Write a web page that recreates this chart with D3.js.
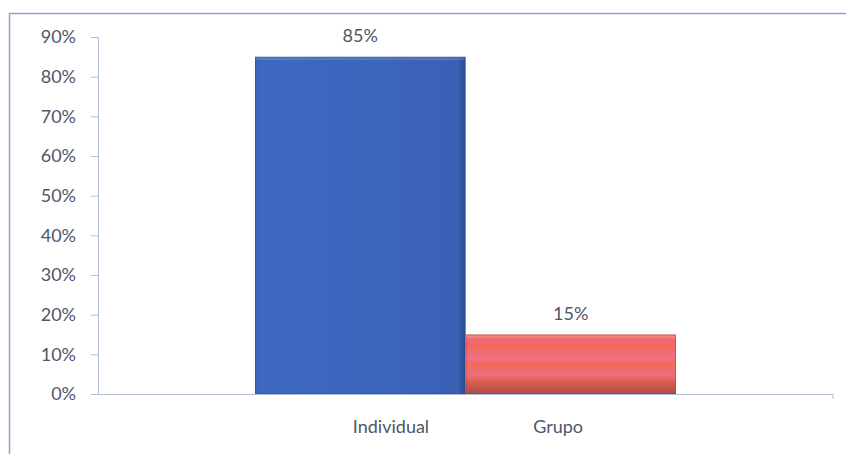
<!DOCTYPE html>
<html><head><meta charset="utf-8">
<script src="https://cdn.jsdelivr.net/npm/d3@7"></script>
<style>html,body{margin:0;padding:0;background:#fff;}svg{display:block;font-family:Lato,"Open Sans",sans-serif;}</style>
</head><body>
<svg id="c" width="846" height="454"></svg>
<script>
const categories = ["Individual", "Grupo"];
const values = [85, 15];
const valueLabels = ["85%", "15%"];
const yTicks = [0, 10, 20, 30, 40, 50, 60, 70, 80, 90];

const svg = d3.select("#c");
const W = 846, H = 454;
const m = {left: 98, right: 13, top: 37, bottom: 60};
const x0 = m.left, x1 = W - m.right, y0 = H - m.bottom, y1 = m.top;
const FS = "18px";
const TXT = "#4f566a";

// frame
svg.append("rect").attr("x", 9.5).attr("y", 13.5).attr("width", 860).attr("height", 460)
  .attr("fill", "none").attr("stroke", "#8f9fcb").attr("stroke-width", 1.5);

const y = d3.scaleLinear().domain([0, 90]).range([y0, y1]);
// single group centred in plot; two series adjacent
const group = d3.scaleBand().domain(["g"]).range([x0, x1]).paddingInner(0).paddingOuter(0.373);
const xs = d3.scaleBand().domain(categories).range([group("g"), group("g") + group.bandwidth()]).padding(0);

const defs = svg.append("defs");
function grad(id, stops, vertical) {
  const g = defs.append("linearGradient").attr("id", id)
    .attr("x1", 0).attr("y1", 0).attr("x2", vertical ? 0 : 1).attr("y2", vertical ? 1 : 0);
  stops.forEach(s => g.append("stop").attr("offset", s[0]).attr("stop-color", s[1]));
}
grad("gBlue", [[0, "#3a64ba"], [0.03, "#3e69c2"], [0.5, "#3c66bd"], [0.96, "#3961b5"], [1, "#2a4a8e"]], false);
grad("gRed", [[0, "#f47763"], [0.12, "#f0667a"], [0.2, "#f26a55"], [0.4, "#f07088"], [0.5, "#f26a55"], [0.68, "#ee6f82"], [0.78, "#e0604f"], [1, "#a84a4a"]], true);
const fills = ["url(#gBlue)", "url(#gRed)"];
const edge = ["#2a4a90", "#9a4444"];

// y axis
const yAxis = svg.append("g").attr("transform", `translate(${x0},0)`)
  .call(d3.axisLeft(y).tickValues(yTicks).tickFormat(d => d + "%").tickSize(7).tickPadding(15));
yAxis.select(".domain").attr("stroke", "#b0bcd4");
yAxis.selectAll(".tick line").attr("stroke", "#b0bcd4");
yAxis.selectAll(".tick text").attr("fill", TXT).style("font-size", FS).style("font-family", "Lato, 'Open Sans', sans-serif");

// x axis line
svg.append("line").attr("x1", x0).attr("x2", x1).attr("y1", y0 + 0.5).attr("y2", y0 + 0.5).attr("stroke", "#b0bcd4");
svg.append("line").attr("x1", x1).attr("x2", x1).attr("y1", y0).attr("y2", y0 + 5).attr("stroke", "#b0bcd4");

// bars
const bars = svg.append("g");
categories.forEach((c, i) => {
  bars.append("rect").attr("x", xs(c)).attr("y", y(values[i]))
    .attr("width", xs.bandwidth()).attr("height", y(0) - y(values[i]))
    .attr("fill", fills[i]);
  bars.append("rect").attr("x", xs(c)).attr("y", y(values[i]))
    .attr("width", xs.bandwidth()).attr("height", 3)
    .attr("fill", "#ffffff").attr("fill-opacity", 0.15);
  bars.append("rect").attr("x", xs(c) + 0.5).attr("y", y(values[i]) + 0.5)
    .attr("width", xs.bandwidth() - 1).attr("height", y(0) - y(values[i]) - 1)
    .attr("fill", "none").attr("stroke", edge[i]).attr("stroke-opacity", 0.5);
  bars.append("text").attr("x", xs(c) + xs.bandwidth() / 2).attr("y", y(values[i]) - 15)
    .attr("text-anchor", "middle").attr("fill", TXT).style("font-size", FS)
    .text(valueLabels[i]);
});

// legend (category names) below plot, centred on the group
const legend = d3.scalePoint().domain(categories).range([group("g") + xs.bandwidth() * 0.646, group("g") + group.bandwidth() - xs.bandwidth() * 0.56]);
categories.forEach(c => {
  svg.append("text").attr("x", legend(c)).attr("y", y0 + 39).attr("text-anchor", "middle")
    .attr("fill", TXT).style("font-size", FS).text(c);
});
</script>
</body></html>
